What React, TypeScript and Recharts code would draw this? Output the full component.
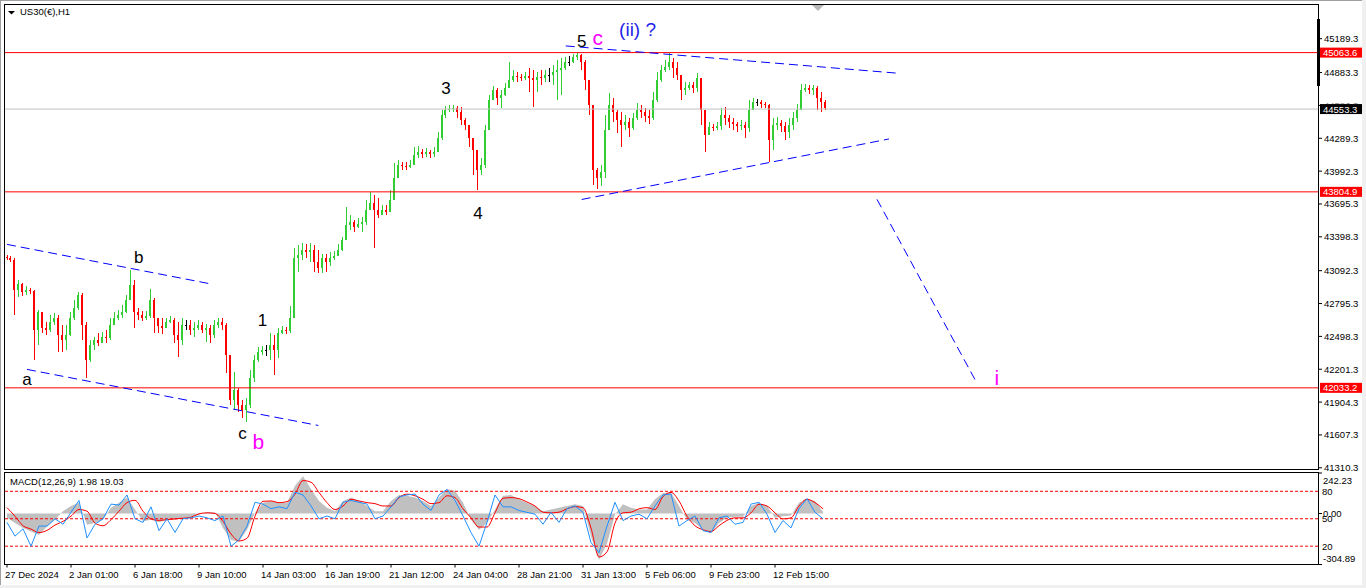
import React from 'react';
import { ComposedChart, Bar, Line, Area, XAxis, YAxis, ReferenceLine, ReferenceDot } from 'recharts';

const FONT = '"Liberation Sans", Arial, Helvetica, sans-serif';
const GREEN = '#32CD32';
const RED = '#FF0000';

// ---------- price data (one candle = 4 hourly bars) ----------
const firstOpen = 43216;
const closes = [
  43207, 43189, 42917, 42972, 42899, 42917, 42908, 42555, 42719, 42574,
  42555, 42628, 42664, 42511, 42466, 42511, 42664, 42755, 42872, 42601,
  42285, 42420, 42466, 42438, 42493, 42484, 42601, 42664, 42691, 42719,
  42827, 42963, 42719, 42691, 42664, 42682, 42827, 42664, 42592, 42574,
  42628, 42646, 42511, 42466, 42601, 42601, 42555, 42574, 42601, 42555,
  42574, 42511, 42601, 42628, 42601, 42330, 41923, 42013, 41878, 41833,
  41878, 42122, 42285, 42357, 42375, 42375, 42420, 42375, 42529, 42555,
  42546, 42664, 43207, 43234, 43279, 43261, 43279, 43171, 43116, 43207,
  43171, 43207, 43225, 43279, 43369, 43505, 43532, 43487, 43514, 43532,
  43641, 43704, 43641, 43595, 43641, 43622, 43731, 43930, 44047, 44038,
  44029, 44047, 44138, 44165, 44147, 44165, 44147, 44165, 44291, 44499,
  44545, 44554, 44563, 44527, 44454, 44409, 44291, 44183, 44002, 44047,
  44364, 44635, 44725, 44653, 44680, 44743, 44816, 44852, 44843, 44834,
  44852, 44834, 44816, 44843, 44834, 44861, 44861, 44888, 44906, 44924,
  44978, 44978, 45024, 45042, 44978, 44816, 44590, 44002, 43930, 43984,
  44364, 44590, 44527, 44454, 44409, 44436, 44382, 44472, 44545, 44527,
  44490, 44472, 44635, 44816, 44906, 44933, 44978, 44924, 44861, 44725,
  44743, 44771, 44743, 44834, 44545, 44319, 44391, 44382, 44400, 44499,
  44472, 44436, 44418, 44400, 44409, 44382, 44545, 44617, 44617, 44599,
  44590, 44273, 44409, 44427, 44400, 44346, 44409, 44472, 44545, 44725,
  44743, 44725, 44743, 44653, 44617, 44563,
];
const highs = [
  43234, 43225, 43207, 43007, 42981, 42954, 42936, 42917, 42737, 42664,
  42628, 42691, 42709, 42691, 42601, 42601, 42719, 42827, 42899, 42890,
  42628, 42466, 42493, 42529, 42537, 42555, 42664, 42719, 42737, 42782,
  42872, 43098, 43007, 42755, 42728, 42728, 42926, 42845, 42664, 42664,
  42664, 42682, 42664, 42628, 42664, 42646, 42646, 42628, 42646, 42628,
  42610, 42601, 42646, 42664, 42664, 42619, 42239, 42176, 42031, 41923,
  41941, 42194, 42330, 42402, 42411, 42420, 42529, 42511, 42574, 42592,
  42583, 42773, 43297, 43324, 43342, 43333, 43342, 43324, 43279, 43243,
  43243, 43261, 43270, 43333, 43397, 43668, 43595, 43550, 43568, 43577,
  43731, 43803, 43776, 43749, 43686, 43686, 43821, 44066, 44093, 44075,
  44075, 44093, 44210, 44219, 44192, 44201, 44183, 44210, 44346, 44545,
  44581, 44590, 44590, 44581, 44572, 44472, 44409, 44273, 44183, 44111,
  44409, 44680, 44762, 44743, 44725, 44789, 44978, 44906, 44888, 44870,
  44888, 44924, 44906, 44888, 44906, 44906, 44924, 44951, 44997, 45015,
  45024, 45033, 45051, 45069, 45051, 44997, 44743, 44183, 44020, 44047,
  44499, 44698, 44653, 44545, 44527, 44499, 44472, 44518, 44608, 44590,
  44563, 44545, 44707, 44888, 44951, 44997, 45060, 45015, 44978, 44834,
  44798, 44798, 44798, 44879, 44816, 44545, 44436, 44418, 44436, 44563,
  44572, 44499, 44472, 44436, 44454, 44436, 44635, 44653, 44644, 44635,
  44617, 44599, 44472, 44481, 44454, 44436, 44472, 44527, 44599, 44780,
  44780, 44771, 44771, 44762, 44707, 44635,
];
const lows = [
  43189, 43171, 42691, 42854, 42863, 42872, 42881, 42285, 42420, 42529,
  42511, 42537, 42601, 42357, 42357, 42375, 42502, 42646, 42737, 42466,
  42122, 42267, 42375, 42411, 42447, 42438, 42466, 42619, 42646, 42664,
  42709, 42845, 42574, 42646, 42637, 42646, 42664, 42529, 42529, 42520,
  42574, 42619, 42438, 42312, 42420, 42555, 42511, 42493, 42555, 42529,
  42447, 42438, 42484, 42574, 42555, 42167, 41878, 41833, 41815, 41760,
  41724, 41851, 42086, 42267, 42330, 42321, 42285, 42149, 42303, 42520,
  42520, 42529, 42737, 43080, 43189, 43207, 43171, 43080, 43071, 43071,
  43080, 43134, 43189, 43225, 43270, 43369, 43460, 43442, 43478, 43442,
  43505, 43641, 43297, 43568, 43595, 43595, 43622, 43731, 43984, 44002,
  44002, 44020, 44066, 44111, 44111, 44120, 44111, 44120, 44183, 44273,
  44472, 44527, 44527, 44472, 44409, 44364, 44210, 43957, 43821, 43957,
  44020, 44364, 44635, 44590, 44563, 44671, 44743, 44798, 44798, 44807,
  44816, 44707, 44572, 44707, 44771, 44798, 44798, 44771, 44635, 44680,
  44906, 44942, 44969, 44997, 44906, 44725, 44499, 43867, 43830, 43858,
  43930, 44409, 44436, 44337, 44210, 44364, 44301, 44364, 44454, 44472,
  44436, 44418, 44454, 44617, 44798, 44888, 44906, 44834, 44816, 44635,
  44680, 44725, 44698, 44707, 44409, 44165, 44319, 44355, 44364, 44364,
  44409, 44382, 44364, 44346, 44364, 44291, 44346, 44545, 44581, 44563,
  44563, 44075, 44183, 44364, 44346, 44273, 44291, 44364, 44436, 44545,
  44707, 44689, 44680, 44545, 44527, 44545,
];

// ---------- MACD panel data (one point = 8 hourly bars) ----------
const macdMain = [
  -26, -57, -87, -108, -128, -77, -37, 14, 45, 65,
  -67, -57, -37, 35, 65, 95, 24, -47, -37, -53,
  -37, -37, -26, -20, -6, 8, 8, -87, -158, -168,
  -97, 4, 65, 75, 65, 65, 166, 223, 146, 75,
  35, 14, 75, 95, 75, 45, 14, 14, 75, 110,
  106, 95, 75, 45, 95, 146, 136, 65, -37, -97,
  -57, 24, 106, 110, 85, 65, 45, 14, 24, 35,
  45, 55, 45, -138, -276, -179, -6, 55, 35, 24,
  24, 85, 122, 126, 45, -37, -57, -97, -118, -57,
  -26, -20, -20, 45, 65, 45, -26, -16, -12, 65,
  89, 75, 10,
];
const macdSignal = [
  35, -16, -73, -93, -114, -101, -69, -47, -16, 24,
  14, -57, -73, -37, 14, 65, 79, 14, -32, -41,
  -37, -32, -28, -22, -2, 4, 0, -47, -122, -164,
  -148, -16, 73, 75, 65, 71, 116, 197, 187, 126,
  65, 24, 45, 85, 75, 65, 59, 45, 45, 95,
  116, 106, 85, 59, 65, 106, 95, 28, -26, -81,
  -81, 4, 91, 95, 89, 69, 45, 8, 4, 8,
  28, 41, 35, -87, -260, -229, -57, 4, 8, 28,
  35, 24, 101, 126, 75, -16, -73, -97, -108, -73,
  -41, -26, -26, 4, 55, 45, 4, -32, -26, 45,
  85, 65, 28,
];
const oscillator = [
  46, 31, 39, 20, 42, 42, 50, 44, 57, 70,
  29, 44, 50, 66, 65, 76, 50, 46, 63, 37,
  50, 35, 50, 51, 53, 51, 48, 53, 20, 27,
  42, 68, 66, 61, 63, 61, 79, 76, 64, 50,
  53, 50, 68, 70, 68, 66, 50, 53, 63, 74,
  76, 77, 66, 59, 76, 82, 70, 53, 35, 20,
  46, 76, 63, 63, 59, 57, 55, 44, 57, 46,
  61, 64, 57, 24, 13, 42, 68, 48, 53, 55,
  50, 64, 76, 77, 42, 48, 53, 37, 35, 51,
  53, 44, 46, 66, 68, 55, 35, 48, 40, 61,
  72, 57, 50,
];
const oscLevels = [80, 50, 20];
const macdAxisLabels = [242.23, 0, -304.89];

// ---------- axes / annotations ----------
const priceTicks = [45189.3, 44883.3, 44586.3, 44289.3, 43992.3, 43695.3, 43398.3, 43092.3, 42795.3, 42498.3, 42201.3, 41904.3, 41607.3, 41310.3];
const redLevels = [45063.6, 43804.9, 42033.2];
const currentPrice = 44553.3;
const dateLabels = ['27 Dec 2024', '2 Jan 01:00', '6 Jan 18:00', '9 Jan 10:00', '14 Jan 03:00', '16 Jan 19:00', '21 Jan 12:00', '24 Jan 04:00', '28 Jan 21:00', '31 Jan 13:00', '5 Feb 06:00', '9 Feb 23:00', '12 Feb 15:00'];

// trend lines: [slot1, price1, slot2, price2]
const trendLines = [
  [0, 43330, 51, 42973],
  [5, 42200, 78, 41693],
  [140, 45124, 223, 44878],
  [144, 43736, 221, 44283],
  [218, 43737, 243, 42078],
];

// wave labels
const blackWaveTexts = ['a', 'b', 'c', '1', '3', '4', '5'];
const blackWaveSlots = [5, 33, 59, 64, 110, 118, 144];
const blackWavePrices = [42113, 43207, 41616, 42646, 44743, 43613, 45168];
const pinkWaveTexts = ['b', 'c', 'i'];
const pinkWaveSlots = [63, 148, 248];
const pinkWavePrices = [41552, 45204, 42131];
const blueWaveText = '(ii) ?';
const blueWaveSlot = 158;
const blueWavePrice = 45277;

const SLOTS = 329;
const candleRows = Array.from({ length: SLOTS }, (_, i) => {
  if (i < closes.length) {
    const o = i === 0 ? firstOpen : closes[i - 1];
    const c = closes[i];
    const hi = Math.max(highs[i], o, c);
    const lo = Math.min(lows[i], o, c);
    return { i, o, c, range: [lo, hi] };
  }
  return { i };
});

const macdRows = macdMain.map((m, k) => ({ k, m, s: macdSignal[k], b: oscillator[k] }));
const dateTickKs = dateLabels.map((_, j) => j * 8);

const Candle = (props: any) => {
  const { x, y, width, height, payload } = props;
  if (!payload || !payload.range || !isFinite(y) || !isFinite(height)) return null;
  const [lo, hi] = payload.range;
  const top = Math.min(y, y + height);
  const h = Math.abs(height);
  const span = hi - lo || 1;
  const py = (v: number) => top + ((hi - v) / span) * h;
  const color = payload.c > payload.o ? GREEN : payload.c < payload.o ? RED : '#000';
  const cx = Math.round(x + width / 2);
  const bTop = py(Math.max(payload.o, payload.c));
  const bBot = py(Math.min(payload.o, payload.c));
  return (
    <g shapeRendering="crispEdges">
      <rect x={cx} y={top} width={1} height={Math.max(1, h)} fill={color} />
      <rect x={cx - 1} y={bTop} width={2} height={Math.max(1, bBot - bTop)} fill={color} />
    </g>
  );
};

const PriceTick = (props: any) => {
  const { x, y, payload } = props;
  const v = Number(payload.value);
  const hiddenByTag = Math.abs(v - currentPrice) < 60;
  return (
    <g>
      {hiddenByTag && (
        <defs>
          <clipPath id="tagClip">
            <rect x={x - 4} y={y - 10} width={60} height={8.2} />
          </clipPath>
        </defs>
      )}
      <text x={x} y={y + 3.5} fontSize={9.5} fontFamily={FONT} fill="#000" clipPath={hiddenByTag ? 'url(#tagClip)' : undefined}>
        {v.toFixed(1)}
      </text>
    </g>
  );
};

const priceTag = (value: number, bg: string) => (props: any) => {
  const vb = props.viewBox;
  if (!vb) return null;
  const x = vb.x + vb.width + 2;
  const y = vb.y;
  return (
    <g>
      <rect x={x} y={y - 5} width={42} height={10} fill={bg} />
      <text x={x + 3} y={y + 3.5} fill="#fff" fontSize={9.5} fontFamily={FONT}>
        {value.toFixed(1)}
      </text>
    </g>
  );
};

const waveLabel = (text: string, color: string, size: number) => (p: any) => (
  <text x={p.cx} y={p.cy} fill={color} fontSize={size} fontFamily={FONT} textAnchor="middle" dominantBaseline="central">
    {text}
  </text>
);

const MacdTick = (props: any) => {
  const { x, y, payload } = props;
  const v = Number(payload.value);
  const dy = v > 0 ? 7 : v < 0 ? -6 : 0;
  return (
    <text x={x} y={y + dy + 3.5} fontSize={9.5} fontFamily={FONT} fill="#000">
      {v.toFixed(2)}
    </text>
  );
};

const levelLabel = (text: string) => (props: any) => {
  const vb = props.viewBox;
  if (!vb) return null;
  return (
    <text x={vb.x + vb.width + 4} y={vb.y + 3.5} fontSize={9.5} fontFamily={FONT} fill="#000">
      {text}
    </text>
  );
};

const DateTick = (props: any) => {
  const { x, y, payload } = props;
  const label = dateLabels[Math.round(Number(payload.value) / 8)];
  return (
    <text x={x - 2} y={y + 8} fontSize={9.5} fontFamily={FONT} fill="#000">
      {label}
    </text>
  );
};

export default function App() {
  return (
    <div style={{ position: 'absolute', left: 0, top: 0, width: 1366, height: 588, background: '#fff', overflow: 'hidden', fontFamily: FONT }}>
      <div style={{ position: 'absolute', left: 0, top: 0 }}>
        <ComposedChart width={1366} height={474} data={candleRows} margin={{ top: 4, right: 0, bottom: 4.5, left: 5 }}>
          <XAxis dataKey="i" type="category" hide />
          <YAxis
            orientation="right"
            type="number"
            domain={[41295, 45503]}
            allowDataOverflow
            ticks={priceTicks}
            interval={0}
            width={48}
            tickSize={4}
            tickMargin={2}
            tick={<PriceTick />}
            tickLine={{ stroke: '#000' }}
            axisLine={false}
          />
          <ReferenceLine y={currentPrice} stroke="#C0C0C0" strokeWidth={1} label={priceTag(currentPrice, '#000')} />
          {redLevels.map((v) => (
            <ReferenceLine key={v} y={v} stroke={RED} strokeWidth={1} label={priceTag(v, RED)} />
          ))}
          <Bar dataKey="range" barSize={3} shape={<Candle />} isAnimationActive={false} />
          {trendLines.map((t, n) => (
            <ReferenceLine
              key={'t' + n}
              segment={[{ x: t[0], y: t[1] }, { x: t[2], y: t[3] }]}
              stroke="#0000FF"
              strokeWidth={1}
              strokeDasharray="9 5"
              ifOverflow="visible"
            />
          ))}
          {blackWaveTexts.map((t, n) => (
            <ReferenceDot key={'bw' + n} x={blackWaveSlots[n]} y={blackWavePrices[n]} r={1} ifOverflow="visible" shape={waveLabel(t, '#000', 17)} />
          ))}
          {pinkWaveTexts.map((t, n) => (
            <ReferenceDot key={'pw' + n} x={pinkWaveSlots[n]} y={pinkWavePrices[n]} r={1} ifOverflow="visible" shape={waveLabel(t, '#FF00FF', 21)} />
          ))}
          <ReferenceDot x={blueWaveSlot} y={blueWavePrice} r={1} ifOverflow="visible" shape={waveLabel(blueWaveText, '#2424E8', 19)} />
        </ComposedChart>
      </div>

      <div style={{ position: 'absolute', left: 0, top: 472 }}>
        <ComposedChart width={1366} height={116} data={macdRows} margin={{ top: 1, right: 0, bottom: 0, left: 5 }}>
          <XAxis
            type="number"
            dataKey="k"
            domain={[-0.25, 163.875]}
            allowDataOverflow
            ticks={dateTickKs}
            interval={0}
            height={23.5}
            tickSize={3}
            tickMargin={2}
            tick={<DateTick />}
            tickLine={{ stroke: '#000' }}
            axisLine={false}
          />
          <YAxis
            yAxisId="m"
            orientation="right"
            type="number"
            domain={[-304.89, 242.23]}
            allowDataOverflow
            ticks={macdAxisLabels}
            interval={0}
            width={48}
            tickSize={4}
            tickMargin={1}
            tick={<MacdTick />}
            tickLine={{ stroke: '#000' }}
            axisLine={false}
          />
          <YAxis yAxisId="s" type="number" domain={[0, 100]} allowDataOverflow hide />
          <Area yAxisId="m" type="linear" dataKey="m" stroke="none" fill="#C0C0C0" fillOpacity={1} baseValue={0} isAnimationActive={false} />
          {oscLevels.map((v) => (
            <ReferenceLine key={v} yAxisId="s" y={v} stroke={RED} strokeWidth={1} strokeDasharray="3 2" label={levelLabel(String(v))} />
          ))}
          <Line yAxisId="m" type="monotone" dataKey="s" stroke={RED} strokeWidth={1} dot={false} isAnimationActive={false} />
          <Line yAxisId="s" type="linear" dataKey="b" stroke="#1E90FF" strokeWidth={1} dot={false} isAnimationActive={false} />
        </ComposedChart>
      </div>

      {/* panel frames */}
      <div style={{ position: 'absolute', left: 4, top: 4, width: 1315, height: 466, border: '1px solid #000', boxSizing: 'border-box', pointerEvents: 'none' }} />
      <div style={{ position: 'absolute', left: 4, top: 472, width: 1315, height: 93, border: '1px solid #000', boxSizing: 'border-box', pointerEvents: 'none' }} />
      <div style={{ position: 'absolute', left: 1317, top: 19, width: 3, height: 67, background: '#000' }} />
      <svg style={{ position: 'absolute', left: 0, top: 0 }} width={1366} height={20}>
        <polygon points="8,11 15,11 11.5,14.5" fill="#000" />
        <polygon points="812,5 824,5 818,11" fill="#B8B8B8" />
      </svg>
      <div style={{ position: 'absolute', left: 20, top: 6, fontSize: 9.5, color: '#000', lineHeight: '12px' }}>US30(€),H1</div>
      <div style={{ position: 'absolute', left: 10, top: 476, fontSize: 9.5, color: '#000', lineHeight: '12px' }}>MACD(12,26,9) 1.98 19.03</div>
      {/* window edges */}
      <div style={{ position: 'absolute', left: 0, top: 0, width: 1366, height: 1, background: '#A0A0A0' }} />
      <div style={{ position: 'absolute', left: 0, top: 0, width: 1, height: 588, background: '#A0A0A0' }} />
      <div style={{ position: 'absolute', left: 1362, top: 0, width: 4, height: 588, background: '#F0F0F0' }} />
      <div style={{ position: 'absolute', left: 0, top: 585, width: 1366, height: 3, background: '#F0F0F0' }} />
    </div>
  );
}
